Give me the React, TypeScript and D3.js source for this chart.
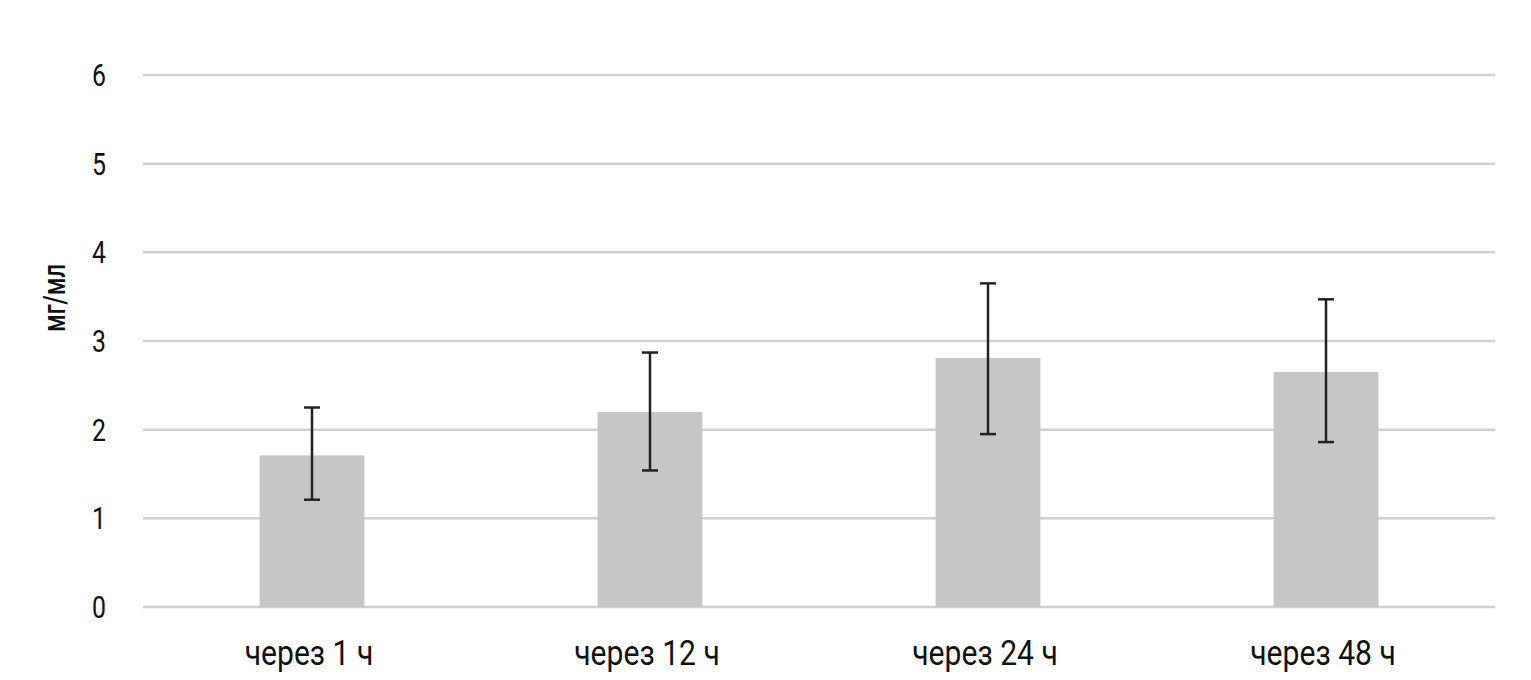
import React from "react";
import * as d3 from "d3";

const categories = ["через 1 ч", "через 12 ч", "через 24 ч", "через 48 ч"];
const means = [1.71, 2.2, 2.81, 2.65];
const lower = [1.21, 1.54, 1.95, 1.86];
const upper = [2.25, 2.87, 3.65, 3.47];
const yTicks = [0, 1, 2, 3, 4, 5, 6];
const yLabel = "мг/мл";

const W = 1531, H = 680;
const left = 143, right = 1495, top = 75, bottom = 607;
const FONT = "Roboto, 'DejaVu Sans', sans-serif";

export default function App() {
  const x = d3.scaleBand<string>().domain(categories).range([left, right]).paddingInner(0.69).paddingOuter(0.345);
  const y = d3.scaleLinear().domain([0, 6]).range([bottom, top]);
  const bw = x.bandwidth();
  return (
    <svg width={W} height={H} style={{ position: "absolute", left: 0, top: 0, background: "#fff" }}>
      {yTicks.map((t) => (
        <g key={t}>
          <line x1={left} x2={right} y1={y(t)} y2={y(t)} stroke="#d0d0d0" strokeWidth={2.5} />
          <g transform={`translate(106,${y(t)}) scale(0.8,1)`}>
            <text x={0} y={0} dy="0.36em" textAnchor="end" fontFamily={FONT} fontSize={31} fill="#111">{t}</text>
          </g>
        </g>
      ))}
      {categories.map((c, i) => {
        const cx = x(c)! + bw / 2;
        return (
          <g key={c}>
            <rect x={x(c)} width={bw} y={y(means[i])} height={y(0) - y(means[i])} fill="#c6c6c6" />
            <line x1={cx} x2={cx} y1={y(lower[i])} y2={y(upper[i])} stroke="#222" strokeWidth={2.5} />
            <line x1={cx - 8} x2={cx + 8} y1={y(lower[i])} y2={y(lower[i])} stroke="#222" strokeWidth={2.5} />
            <line x1={cx - 8} x2={cx + 8} y1={y(upper[i])} y2={y(upper[i])} stroke="#222" strokeWidth={2.5} />
            <g transform={`translate(${cx - 3},665) scale(0.86,1)`}>
              <text x={0} y={0} textAnchor="middle" fontFamily={FONT} fontSize={35} fill="#111">{c}</text>
            </g>
          </g>
        );
      })}
      <g transform={`translate(65,298) rotate(-90) scale(0.74,1)`}>
        <text x={0} y={0} textAnchor="middle" fontFamily={FONT} fontSize={32} fontWeight={500} fill="#111">{yLabel}</text>
      </g>
    </svg>
  );
}
